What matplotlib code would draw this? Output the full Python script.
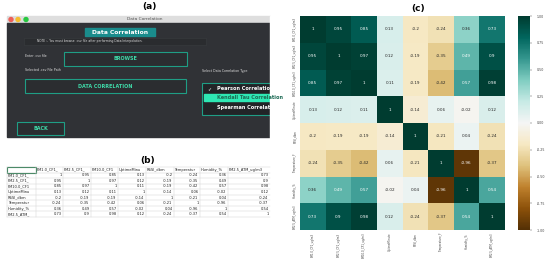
import numpy as np
import matplotlib.pyplot as plt
import matplotlib.patches as mpatches
import seaborn as sns

# Correlation results
labels = ["PM1.0_CF1_ug/m3", "PM2.5_CF1_ug/m3", "PM10.0_CF1_ug/m3", "UptimeMinute",
          "RSSI_dbm", "Temperature_F", "Humidity_%", "PM2.5_ATM_ug/m3"]
short_labels = ["PM1.0_CF1_", "PM2.5_CF1_", "PM10.0_CF1", "UptimeMinu",
                "RSSI_dbm", "Temperatur", "Humidity_%", "PM2.5_ATM_"]
header_labels = ["PM1.0_CF1_", "PM2.5_CF1_", "PM10.0_CF1", "UptimeMinu",
                 "RSSI_dbm", "Temperatur", "Humidity_%", "PM2.5_ATM_ug/m3"]
corr = np.array([
    [1, 0.95, 0.85, 0.13, -0.2, -0.24, 0.36, 0.73],
    [0.95, 1, 0.97, 0.12, -0.19, -0.35, 0.49, 0.9],
    [0.85, 0.97, 1, 0.11, -0.19, -0.42, 0.57, 0.98],
    [0.13, 0.12, 0.11, 1, -0.14, 0.06, -0.02, 0.12],
    [-0.2, -0.19, -0.19, -0.14, 1, -0.21, 0.04, -0.24],
    [-0.24, -0.35, -0.42, 0.06, -0.21, 1, -0.96, -0.37],
    [0.36, 0.49, 0.57, -0.02, 0.04, -0.96, 1, 0.54],
    [0.73, 0.9, 0.98, 0.12, -0.24, -0.37, 0.54, 1],
])
corr_types = ["Pearson Correlation", "Kendall Tau Correlation", "Spearman Correlation"]

W, H = 550, 264
fig = plt.figure(figsize=(W / 100, H / 100), dpi=100)


def px_axes(x0, y0, x1, y1):
    return fig.add_axes([x0 / W, 1 - y1 / H, (x1 - x0) / W, (y1 - y0) / H])


# overlay in pixel coords for the GUI screenshot and the table
ov = px_axes(0, 0, W, H)
ov.set_xlim(0, W)
ov.set_ylim(H, 0)
ov.axis("off")

teal = "#1f9e85"
mint = "#3fdcaa"

# ---- (a) GUI ----
ov.text(149, 6, "(a)", ha="center", va="center", fontsize=6.5, fontweight="bold")
ov.add_patch(mpatches.Rectangle((7, 16), 263, 7, color="#dedede"))
for cx, col in zip([11, 18, 26], ["#ee5f57", "#f5bd2f", "#27c840"]):
    ov.add_patch(mpatches.Circle((cx, 19.5), 2, color=col))
ov.text(145, 19.5, "Data Correlation", ha="center", va="center", fontsize=3.2, color="#555555")
ov.add_patch(mpatches.Rectangle((7, 23), 263, 114, color="#303236"))
ov.add_patch(mpatches.Rectangle((85, 28), 70, 8, color="#1a8c8c"))
ov.text(120, 32, "Data Correlation", ha="center", va="center", fontsize=4.3,
        fontweight="bold", color="white")
ov.add_patch(mpatches.Rectangle((24, 37.5), 182, 7, facecolor="#2a2c2f",
                                edgecolor="#3a3d40", lw=0.4))
ov.text(37, 41, "NOTE :- You must browse .csv file after performing Data Interpolation.",
        ha="left", va="center", fontsize=2.2, color="#dddddd")
ov.text(25, 56, "Enter .csv file", ha="left", va="center", fontsize=2.3, color="#dddddd")
ov.text(25, 70, "Selected .csv File Path", ha="left", va="center", fontsize=2.3, color="#dddddd")
ov.text(202, 71, "Select Data Correlation Type", ha="left", va="center", fontsize=2.3,
        color="#dddddd")

buttons = [((64, 52, 123, 14), "BROWSE"), ((25, 79, 161, 14), "DATA CORRELATION"),
           ((17, 122, 47, 13), "BACK")]
for (bx, by, bw, bh), txt in buttons:
    ov.add_patch(mpatches.Rectangle((bx, by), bw, bh, facecolor="#2b2d30",
                                    edgecolor=teal, lw=0.8))
    ov.text(bx + bw / 2, by + bh / 2, txt, ha="center", va="center", fontsize=3.5,
            fontweight="bold", color=mint)

ov.add_patch(mpatches.Rectangle((202, 83), 70, 32, facecolor="#222427",
                                edgecolor=teal, lw=0.8, clip_on=True))
ov.add_patch(mpatches.Rectangle((204, 94), 68, 7, color="#2ee8b4"))
ov.text(209, 89, "\u2713", ha="center", va="center", fontsize=3.5, color="white")
for i, name in enumerate(corr_types):
    ov.text(217, [89, 97.5, 107][i], name, ha="left", va="center", fontsize=3.6,
            fontweight="bold", color="#1d6b55" if i == 1 else "white", clip_on=True)
ov.add_patch(mpatches.Rectangle((270, 16), 20, 125, color="white"))

# ---- (b) table ----
ov.text(148, 160, "(b)", ha="center", va="center", fontsize=6.5, fontweight="bold")
col_x = [7, 36, 63, 91, 118, 146, 174, 200, 228, 270]
row_h = 5.55
top = 167
nrows = len(short_labels) + 1
for xv in col_x[:-1]:
    ov.plot([xv, xv], [top, top + nrows * row_h], color="#d4d4d4", lw=0.35)
for r in range(nrows + 1):
    ov.plot([7, 270], [top + r * row_h] * 2, color="#d4d4d4", lw=0.35)
ov.add_patch(mpatches.Rectangle((7, top), 29, row_h, fill=False, edgecolor="#217346", lw=0.8))
for j, h in enumerate(header_labels):
    ov.text(col_x[j + 1] + 0.5, top + row_h / 2, h, ha="left", va="center", fontsize=2.6,
            color="#222222")
for i, rl in enumerate(short_labels):
    y = top + (i + 1.5) * row_h
    ov.text(8, y, rl, ha="left", va="center", fontsize=2.6, color="#222222")
    for j in range(len(short_labels)):
        ov.text(col_x[j + 2] - 1.5, y, f"{corr[i, j]:g}", ha="right", va="center",
                fontsize=2.6, color="#222222")

# ---- (c) heatmap ----
ov.text(418, 9, "(c)", ha="center", va="center", fontsize=6.5, fontweight="bold")
ax = px_axes(300, 16, 505, 230)
cax = px_axes(518, 16, 530, 230)
sns.heatmap(corr, ax=ax, cbar_ax=cax, cmap="BrBG", vmin=-1, vmax=1, annot=True, fmt="g",
            annot_kws={"size": 3}, xticklabels=labels, yticklabels=labels)
ax.tick_params(length=0, labelsize=1.9, pad=2, colors="#444444")
ax.set_xticklabels(labels, rotation=90)
ax.set_yticklabels(labels, rotation=90, va="center")
cax.set_yticks([1, 0.75, 0.5, 0.25, 0, -0.25, -0.5, -0.75, -1])
cax.set_yticklabels(["1.00", "0.75", "0.50", "0.25", "0.00", "-0.25", "-0.50", "-0.75", "-1.00"])
cax.tick_params(labelsize=2.3, length=1.5, width=0.3, colors="#444444")
for s in cax.spines.values():
    s.set_visible(False)

fig.savefig("out.png", dpi=100)
